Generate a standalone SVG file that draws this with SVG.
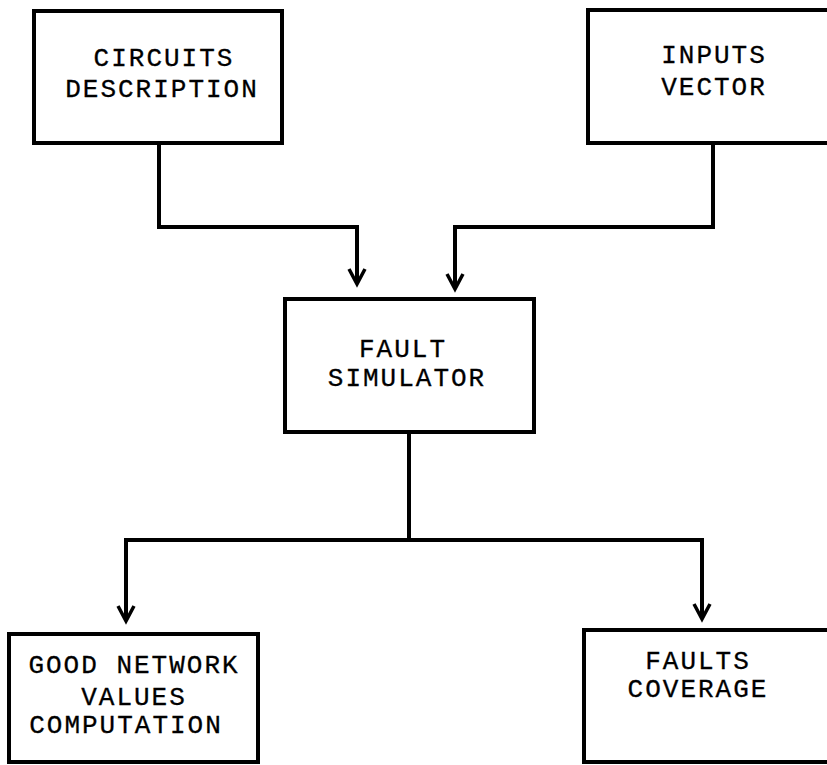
<svg xmlns="http://www.w3.org/2000/svg" width="827" height="765" viewBox="0 0 827 765">
<defs>
<style>
.box{fill:#fff;stroke:#000;stroke-width:4}
.t{font-family:"Liberation Mono","Courier New",monospace;font-size:26px;letter-spacing:2px;fill:#000;stroke:#000;stroke-width:0.3;text-anchor:middle}
.c{fill:none;stroke:#000;stroke-width:4;stroke-linejoin:miter}
</style>
<marker id="ah" markerUnits="userSpaceOnUse" markerWidth="24" markerHeight="24" viewBox="-20 -12 24 24" refX="0" refY="0" orient="auto">
<path d="M-15,-8 L0,0 L-15,8" fill="none" stroke="#000" stroke-width="3.5"/>
</marker>
</defs>
<rect width="827" height="765" fill="#fff"/>
<g id="connectors">
<path class="c" d="M159,143 V227 H357 V284" marker-end="url(#ah)"/>
<path class="c" d="M713,143 V227 H455 V289" marker-end="url(#ah)"/>
<path class="c" d="M409,432 V540"/>
<path class="c" d="M126,621 V540 H702 V619" marker-end="url(#ah)"/>
<path d="M126,541 V621" fill="none" stroke="none" marker-end="url(#ah)"/>
</g>
<g id="circuits">
<rect class="box" x="34" y="11" width="248" height="132"/>
<text class="t" x="164" y="66">CIRCUITS</text>
<text class="t" x="162" y="97">DESCRIPTION</text>
</g>
<g id="inputs">
<rect class="box" x="588" y="10" width="245" height="133"/>
<text class="t" x="714" y="63">INPUTS</text>
<text class="t" x="714" y="95">VECTOR</text>
</g>
<g id="simulator">
<rect class="box" x="285" y="299" width="249" height="133"/>
<text class="t" x="403" y="357">FAULT</text>
<text class="t" x="407" y="386">SIMULATOR</text>
</g>
<g id="good">
<rect class="box" x="9" y="634" width="249" height="128"/>
<text class="t" x="134" y="673">GOOD NETWORK</text>
<text class="t" x="134" y="705">VALUES</text>
<text class="t" x="126" y="733">COMPUTATION</text>
</g>
<g id="coverage">
<rect class="box" x="584" y="630" width="249" height="132"/>
<text class="t" x="698" y="669">FAULTS</text>
<text class="t" x="698" y="697">COVERAGE</text>
</g>
</svg>
